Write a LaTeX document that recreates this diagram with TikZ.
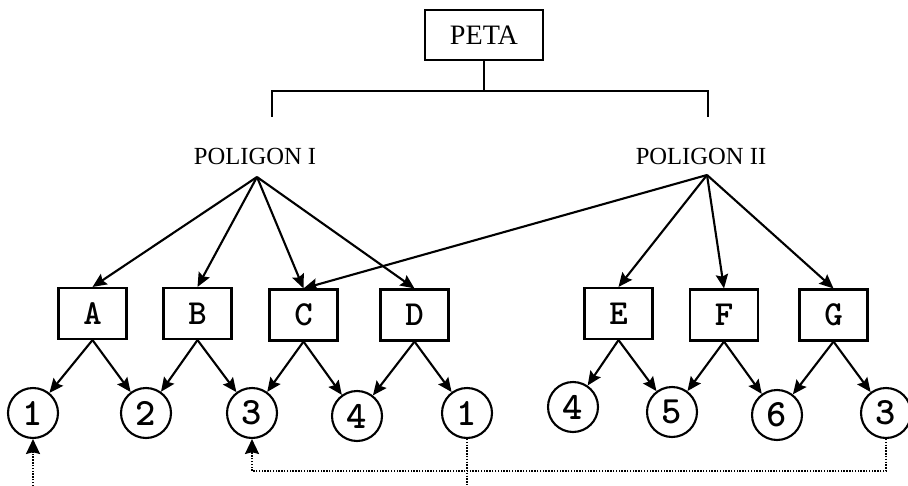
\documentclass[tikz,border=0pt]{standalone}
\usepackage{fontspec}
\setmainfont{Liberation Serif}
\usetikzlibrary{arrows.meta}

\begin{document}
\begin{tikzpicture}[x=0.02cm, y=-0.02cm, line width=1.2pt,
  >={Stealth[length=8pt,width=7pt,inset=1.2pt]},
  kotak/.style={draw, minimum width=1.36cm, minimum height=1.02cm, inner sep=0pt,
    font=\ttfamily\bfseries\fontsize{20}{20}\selectfont},
  titik/.style={draw, circle, minimum size=1.0cm, inner sep=0pt,
    font=\ttfamily\bfseries\fontsize{22}{22}\selectfont},
  poli/.style={font=\fontsize{14}{14}\selectfont},
  balik/.style={dash pattern=on 0.8pt off 0.8pt, line width=1pt,
    >={Stealth[length=8.5pt,width=8pt,inset=1pt]}}]
\useasboundingbox (0,0) rectangle (908,486);
%--- Peta dan poligon ---
\node[draw, minimum width=2.36cm, minimum height=1.0cm, font=\fontsize{16}{16}\selectfont]
  (peta) at (484,35) {PETA};
\coordinate (bar) at (484,91);
\coordinate (brL) at (272,117);
\coordinate (brR) at (708,117);
\draw (peta) -- (bar);
\draw (brL) |- (bar) -| (brR);
\node[poli] (pI) at (255,156) {POLIGON I};
\node[poli] (pII) at (701,156) {POLIGON II};
\coordinate (srcI) at (257,177);
\coordinate (srcII) at (707,175);
%--- Segmen ---
\node[kotak] (A) at (92.5,313.5) {A};
\node[kotak] (B) at (197.5,313.5) {B};
\node[kotak] (C) at (303.5,315) {C};
\node[kotak] (D) at (414.5,315) {D};
\node[kotak] (E) at (618.5,313.5) {E};
\node[kotak] (F) at (724,315) {F};
\node[kotak] (G) at (833.5,315) {G};
% Poligon ke segmen
\foreach \s in {A,B,C,D} \draw[->] (srcI) -- (\s.north);
\foreach \s in {C,E,F,G} \draw[->] (srcII) -- (\s.north);
%--- Titik ---
\node[titik] (n1a) at (33,413) {1};
\node[titik] (n2) at (146,413) {2};
\node[titik] (n3a) at (252,413) {3};
\node[titik] (n4a) at (357,416) {4};
\node[titik] (n1b) at (467,413) {1};
\node[titik] (n4b) at (573,407) {4};
\node[titik] (n5) at (672,412) {5};
\node[titik] (n6) at (777,415) {6};
\node[titik] (n3b) at (886,413) {3};
% Segmen ke titik
\foreach \s/\p/\q in {A/n1a/n2, B/n2/n3a, C/n3a/n4a, D/n4a/n1b,
                      E/n4b/n5, F/n5/n6, G/n6/n3b} {
  \draw[->] (\s.south) -- (\p);
  \draw[->] (\s.south) -- (\q);
}
% Titik yang sama
\coordinate (in1) at (33,486);
\coordinate (out1) at (467,486);
\coordinate (ret) at (560,471);
\draw[balik, ->] (in1) -- (n1a);
\draw[balik] (n1b) -- (out1);
\draw[balik, ->] (n3b) |- (ret) -| (n3a);
\end{tikzpicture}
\end{document}
